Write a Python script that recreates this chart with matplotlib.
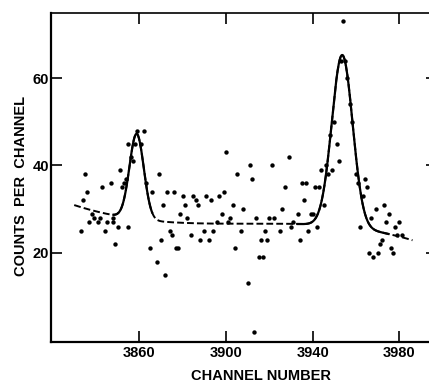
import matplotlib
matplotlib.use('Agg')
import matplotlib.pyplot as plt
import numpy as np

channel = [3833, 3834, 3835, 3836, 3837, 3838, 3839, 3841, 3842, 3843,
           3844, 3845, 3847, 3848, 3848, 3849, 3850, 3851, 3852, 3853,
           3854, 3855, 3855, 3856, 3857, 3858, 3859, 3861, 3862, 3863,
           3865, 3866, 3868, 3869, 3870, 3871, 3872, 3873, 3874, 3875,
           3876, 3877, 3878, 3879, 3880, 3881, 3882, 3884, 3885, 3886,
           3887, 3888, 3890, 3891, 3892, 3893, 3894, 3896, 3897, 3898,
           3899, 3900, 3901, 3902, 3903, 3904, 3905, 3907, 3908, 3910,
           3911, 3912, 3913, 3914, 3915, 3916, 3917, 3918, 3919, 3920,
           3921, 3922, 3925, 3926, 3927, 3929, 3930, 3931, 3933, 3934,
           3935, 3936, 3937, 3938, 3939, 3940, 3941, 3942, 3943, 3944,
           3945, 3946, 3947, 3948, 3949, 3950, 3951, 3952, 3953, 3954,
           3955, 3956, 3957, 3958, 3960, 3961, 3962, 3963, 3964, 3965,
           3966, 3967, 3968, 3969, 3970, 3971, 3972, 3973, 3974, 3975,
           3976, 3977, 3978, 3979, 3980, 3981]
counts = [25, 32, 38, 34, 27, 29, 28, 27, 28, 35,
          25, 27, 36, 28, 27, 22, 26, 39, 35, 36,
          37, 26, 45, 42, 41, 45, 48, 45, 48, 36,
          21, 34, 18, 38, 23, 31, 15, 34, 25, 24,
          34, 21, 21, 29, 33, 31, 28, 24, 33, 32,
          31, 23, 25, 33, 23, 32, 25, 27, 33, 29,
          34, 43, 27, 28, 31, 21, 38, 25, 30, 13,
          40, 37, 2, 28, 19, 23, 19, 25, 23, 28,
          40, 28, 25, 30, 35, 42, 26, 27, 29, 23,
          36, 32, 36, 25, 29, 29, 35, 26, 35, 39,
          31, 40, 38, 47, 39, 50, 45, 41, 64, 73,
          64, 60, 54, 50, 38, 36, 26, 33, 37, 35,
          20, 28, 19, 30, 20, 22, 23, 31, 27, 29,
          21, 20, 26, 24, 27, 24]

# fitted curve: two gaussian peaks on a smooth background
peak_centers = [3858.8, 3953.6]
peak_heights = [19.5, 39.3]
peak_sigmas = [3.3, 4.8]
bg_channel = [3830, 3847, 3868, 3900, 3935, 3971, 3986]
bg_counts = [31.1, 28.5, 27.2, 26.8, 26.8, 24.2, 23.2]
fit_start, fit_end = 3830, 3986
solid_ranges = [(3848, 3866), (3933, 3975)]

plt.rcParams['font.family'] = ['Liberation Sans', 'DejaVu Sans']
plt.rcParams['font.weight'] = 'bold'

fig = plt.figure(figsize=(4.29, 3.83), dpi=100)
ax = fig.add_axes([51/429, 41/383, 386/429, 329/383])

bg_coef = np.polyfit(np.array(bg_channel) - 3900, bg_counts, 3)
xf = np.linspace(fit_start, fit_end, 800)
yf = np.polyval(bg_coef, xf - 3900)
for c, h, s in zip(peak_centers, peak_heights, peak_sigmas):
    yf = yf + h * np.exp(-0.5 * ((xf - c) / s) ** 2)

ax.plot(xf, yf, color='black', lw=1.4, dashes=(3.5, 1.6))
for lo, hi in solid_ranges:
    m = (xf >= lo) & (xf <= hi)
    ax.plot(xf[m], yf[m], color='black', lw=1.6)

ax.scatter(channel, counts, s=10, c='black', linewidths=0, zorder=3)

ax.set_xlim(3819.3, 3997.3)
ax.set_ylim(-0.4, 74.9)
ax.set_xticks([3860, 3900, 3940, 3980])
ax.set_yticks([20, 40, 60])
ax.tick_params(direction='in', length=8, width=1.2, top=True, right=True,
               labelsize=10.5)
ax.tick_params(axis='x', pad=3)
ax.tick_params(axis='y', pad=1.5)
for side in ['left', 'bottom']:
    ax.spines[side].set_linewidth(1.6)
for side in ['top', 'right']:
    ax.spines[side].set_linewidth(1.2)

fig.text(261/429, 1 - 379.5/383, 'CHANNEL NUMBER', fontsize=10.5,
         ha='center', va='baseline', rotation_mode='anchor')
fig.text(25/429, 1 - 186/383, 'COUNTS  PER  CHANNEL', fontsize=10.5,
         ha='center', va='baseline', rotation=90, rotation_mode='anchor')

fig.savefig('out.png', dpi=100)
